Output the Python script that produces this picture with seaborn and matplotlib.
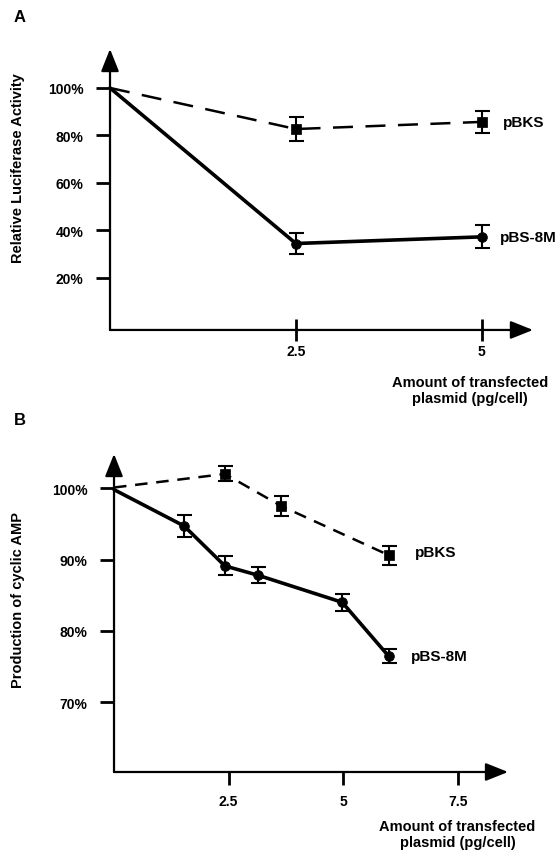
import matplotlib
matplotlib.use("Agg")
import numpy as np
import pandas as pd
import matplotlib.pyplot as plt
import seaborn as sns

# Panel A: luciferase activity
a_dose = [0, 2.5, 5]
a_pbks = [100, 82.7, 85.7]
a_pbks_err = [0, 5.0, 4.6]
a_pbs8m = [100, 34.5, 37.3]
a_pbs8m_err = [0, 4.4, 4.8]
a_yticks = [20, 40, 60, 80, 100]
a_xticks = [2.5, 5]

# Panel B: cyclic AMP
b_pbks_dose = [0, 2.42, 3.65, 6.0]
b_pbks = [100.1, 102.0, 97.5, 90.6]
b_pbks_err = [0, 1.05, 1.4, 1.33]
b_pbs8m_dose = [0, 1.53, 2.42, 3.14, 4.98, 6.0]
b_pbs8m = [99.8, 94.7, 89.1, 87.8, 84.0, 76.4]
b_pbs8m_err = [0, 1.54, 1.33, 1.12, 1.19, 0.98]
b_yticks = [70, 80, 90, 100]
b_xticks = [2.5, 5, 7.5]

sns.set_style("ticks")
plt.rcParams['font.family'] = ['Liberation Sans', 'DejaVu Sans']
plt.rcParams['font.weight'] = 'bold'
# seaborn's style uses dark grey text; the original is plain black
for key in ['text.color', 'axes.labelcolor', 'xtick.color', 'ytick.color']:
    plt.rcParams[key] = 'black'

fig = plt.figure(figsize=(5.57, 8.53), dpi=100)
ax_a = fig.add_axes([0.1975, 0.612, 0.7594, 0.3294])
ax_b = fig.add_axes([0.2047, 0.0938, 0.7074, 0.3728])


def draw_series(ax, x, y, err, dashes, lw, marker, ms):
    df = pd.DataFrame({'x': x, 'y': y, 'err': err})
    if dashes is None:
        sns.lineplot(data=df, x='x', y='y', ax=ax, color='black', lw=lw,
                     sort=False, clip_on=False)
    else:
        sns.lineplot(data=df, x='x', y='y', ax=ax, color='black', lw=lw,
                     sort=False, linestyle=(0, dashes), clip_on=False)
    pts = df[df['x'] > 0]
    sns.scatterplot(data=pts, x='x', y='y', ax=ax, color='black',
                    marker=marker, s=ms ** 2, edgecolor='black', zorder=4)
    ax.errorbar(pts['x'], pts['y'], yerr=pts['err'], fmt='none',
                ecolor='black', elinewidth=1.5, capsize=5.4, capthick=1.5,
                zorder=3)


def style_axes(ax, xlim, ylim, yticks, xticks, xtick_dir, xtick_len, xpad):
    ax.set_xlim(*xlim)
    ax.set_ylim(*ylim)
    for s in ax.spines.values():
        s.set_visible(False)
    ax.set_yticks(yticks)
    ax.set_yticklabels([f"{t}%" for t in yticks])
    ax.set_xticks(xticks)
    ax.set_xticklabels([f"{t:g}" for t in xticks])
    ax.tick_params(axis='y', direction='out', length=10, width=2,
                   labelsize=10, pad=9)
    ax.tick_params(axis='x', direction=xtick_dir, length=xtick_len, width=2,
                   labelsize=10, pad=xpad)
    arrow = dict(arrowstyle='-|>,head_length=0.55,head_width=0.22',
                 mutation_scale=25, lw=1.6, color='black',
                 shrinkA=0, shrinkB=0)
    ax.annotate('', xy=(1, 0), xytext=(0, 0), xycoords='axes fraction',
                arrowprops=arrow)
    ax.annotate('', xy=(0, 1), xytext=(0, 0), xycoords='axes fraction',
                arrowprops=arrow)
    ax.set_xlabel('')


# --- Panel A ---
draw_series(ax_a, a_dose, a_pbks, a_pbks_err, (8, 5), 1.8, 's', 6.5)
draw_series(ax_a, a_dose, a_pbs8m, a_pbs8m_err, None, 2.6, 'o', 7)
style_axes(ax_a, (0, 5.69), (-1.9, 116.4), a_yticks, a_xticks, 'inout', 16, 2)
ax_a.set_ylabel('Relative Luciferase Activity', fontsize=10.5, fontweight='bold')
ax_a.yaxis.set_label_coords(-0.2, 0.58)
ax_a.text(1.035, -0.16, 'Amount of transfected\nplasmid (pg/cell)',
          transform=ax_a.transAxes, ha='right', va='top',
          multialignment='center', fontsize=10.5, linespacing=1.2)
ax_a.text(5.28, a_pbks[-1], 'pBKS', fontsize=11, va='center')
ax_a.text(5.24, a_pbs8m[-1], 'pBS-8M', fontsize=11, va='center')

# --- Panel B ---
draw_series(ax_b, b_pbks_dose, b_pbks, b_pbks_err, (5, 3.5), 1.8, 's', 6.5)
draw_series(ax_b, b_pbs8m_dose, b_pbs8m, b_pbs8m_err, None, 2.6, 'o', 7)
style_axes(ax_b, (0, 8.6), (60.2, 104.8), b_yticks, b_xticks, 'out', 9.5, 6)
ax_b.set_ylabel('Production of cyclic AMP', fontsize=10.5, fontweight='bold')
ax_b.yaxis.set_label_coords(-0.226, 0.544)
ax_b.text(1.07, -0.148, 'Amount of transfected\nplasmid (pg/cell)',
          transform=ax_b.transAxes, ha='right', va='top',
          multialignment='center', fontsize=10.5, linespacing=1.2)
ax_b.text(6.57, 91.0, 'pBKS', fontsize=11, va='center')
ax_b.text(6.48, b_pbs8m[-1], 'pBS-8M', fontsize=11, va='center')

fig.text(20 / 557, 1 - 18 / 853, 'A', fontsize=12, fontweight='bold',
         ha='center', va='center')
fig.text(20 / 557, 1 - 421 / 853, 'B', fontsize=12, fontweight='bold',
         ha='center', va='center')

fig.savefig('out.png', dpi=100)
